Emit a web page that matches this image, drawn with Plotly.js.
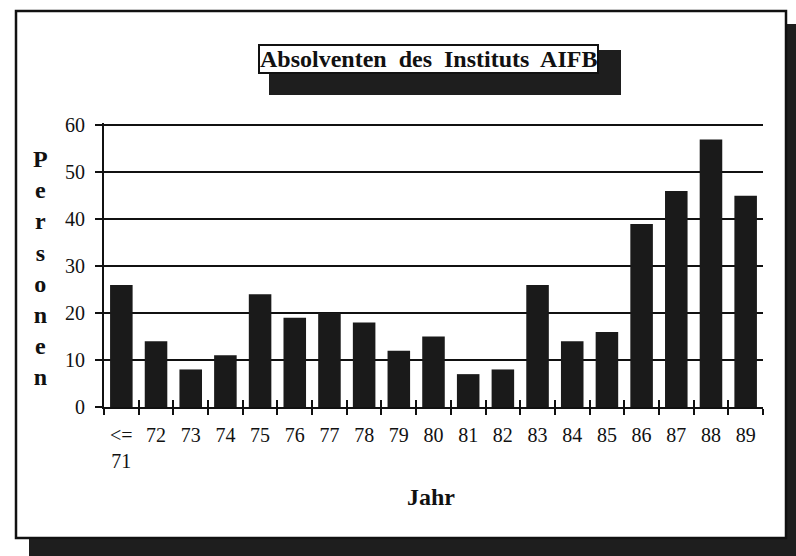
<!DOCTYPE html>
<html>
<head>
<meta charset="utf-8">
<script src="https://cdn.plot.ly/plotly-3.0.1.min.js"></script>
<style>
  html, body { margin: 0; padding: 0; background: #ffffff; }
  #chart { width: 796px; height: 556px; }
</style>
</head>
<body>
<div id="chart"></div>
<script>
// ---- data ----
const years = ['<=<br>71', '72', '73', '74', '75', '76', '77', '78', '79', '80',
               '81', '82', '83', '84', '85', '86', '87', '88', '89'];
const graduates = [26, 14, 8, 11, 24, 19, 20, 18, 12, 15, 7, 8, 26, 14, 16, 39, 46, 57, 45];
const yTicks = [0, 10, 20, 30, 40, 50, 60];
const chartTitle = 'Absolventen\u00a0 des\u00a0 Instituts\u00a0 AIFB';
const xTitle = 'Jahr';
const yTitleLetters = ['P', 'e', 'r', 's', 'o', 'n', 'e', 'n'];

// ---- layout geometry (pixels) ----
const W = 796, H = 556;
const M = { l: 104, r: 33, t: 123, b: 149 };
const pw = W - M.l - M.r, ph = H - M.t - M.b;
const px = x => (x - M.l) / pw;
const py = y => (H - M.b - y) / ph;

const serif = 'Liberation Serif, Times New Roman, serif';
const ink = '#111111';
const shade = '#1e1e1e';

const traces = [
  {
    type: 'bar',
    x: years,
    y: graduates,
    marker: { color: '#1a1a1a', line: { width: 0 } },
    hoverinfo: 'x+y',
    showlegend: false
  },
  {
    type: 'bar',
    x: years,
    y: years.map(() => null),
    xaxis: 'x2',
    showlegend: false,
    hoverinfo: 'skip'
  }
];

const shapes = [
  // outer frame shadow
  { type: 'rect', xref: 'paper', yref: 'paper', layer: 'below',
    x0: px(29), x1: px(805), y0: py(24), y1: py(560),
    fillcolor: shade, line: { width: 0 } },
  // outer frame
  { type: 'rect', xref: 'paper', yref: 'paper', layer: 'below',
    x0: px(16), x1: px(786), y0: py(11), y1: py(538),
    fillcolor: '#ffffff', line: { color: ink, width: 2.5 } },
  // title box shadow
  { type: 'rect', xref: 'paper', yref: 'paper', layer: 'below',
    x0: px(269), x1: px(621), y0: py(50), y1: py(95),
    fillcolor: shade, line: { width: 0 } }
];

const annotations = [
  { xref: 'paper', yref: 'paper', x: px(428.5), y: py(59.5),
    xanchor: 'center', yanchor: 'middle', showarrow: false,
    text: '<b>' + chartTitle + '</b>',
    font: { family: serif, size: 24, color: ink },
    bgcolor: '#ffffff', bordercolor: ink, borderwidth: 2, borderpad: 0 },
  { xref: 'paper', yref: 'paper', x: px(431), y: py(497),
    xanchor: 'center', yanchor: 'middle', showarrow: false,
    text: '<b>' + xTitle + '</b>',
    font: { family: serif, size: 24, color: ink } },
  { xref: 'paper', yref: 'paper', x: px(40), y: py(268),
    xanchor: 'center', yanchor: 'middle', showarrow: false, align: 'center',
    text: '<b>' + yTitleLetters.join('<br>') + '</b>',
    font: { family: serif, size: 24, color: ink } }
];

const layout = {
  width: W, height: H,
  margin: M,
  paper_bgcolor: 'rgba(0,0,0,0)',
  plot_bgcolor: 'rgba(0,0,0,0)',
  bargap: 0.35,
  showlegend: false,
  font: { family: serif, color: ink, size: 20 },
  xaxis: {
    type: 'category',
    categoryarray: years,
    range: [-0.5, years.length - 0.5],
    showgrid: false,
    showline: true, linecolor: ink, linewidth: 2,
    ticks: 'outside', tickson: 'boundaries', ticklen: 6, tickwidth: 2, tickcolor: ink,
    tickfont: { family: serif, size: 20, color: ink },
    ticklabelstandoff: 9,
    fixedrange: true
  },
  xaxis2: {
    type: 'category',
    categoryarray: years,
    overlaying: 'x', anchor: 'y', side: 'bottom',
    range: [-0.5, years.length - 0.5],
    showgrid: false, showline: false,
    ticks: 'inside', tickson: 'boundaries', ticklen: 7, tickwidth: 2, tickcolor: ink,
    showticklabels: false,
    fixedrange: true
  },
  yaxis: {
    range: [0, 60.5],
    tickvals: yTicks,
    showgrid: true, gridcolor: ink, gridwidth: 2,
    zeroline: false,
    showline: true, linecolor: ink, linewidth: 2,
    ticks: 'outside', ticklen: 7, tickwidth: 2, tickcolor: ink,
    tickfont: { family: serif, size: 20, color: ink },
    ticklabelstandoff: 6,
    fixedrange: true
  },
  shapes: shapes,
  annotations: annotations
};

Plotly.newPlot('chart', traces, layout, { displayModeBar: false, staticPlot: false });
</script>
</body>
</html>
